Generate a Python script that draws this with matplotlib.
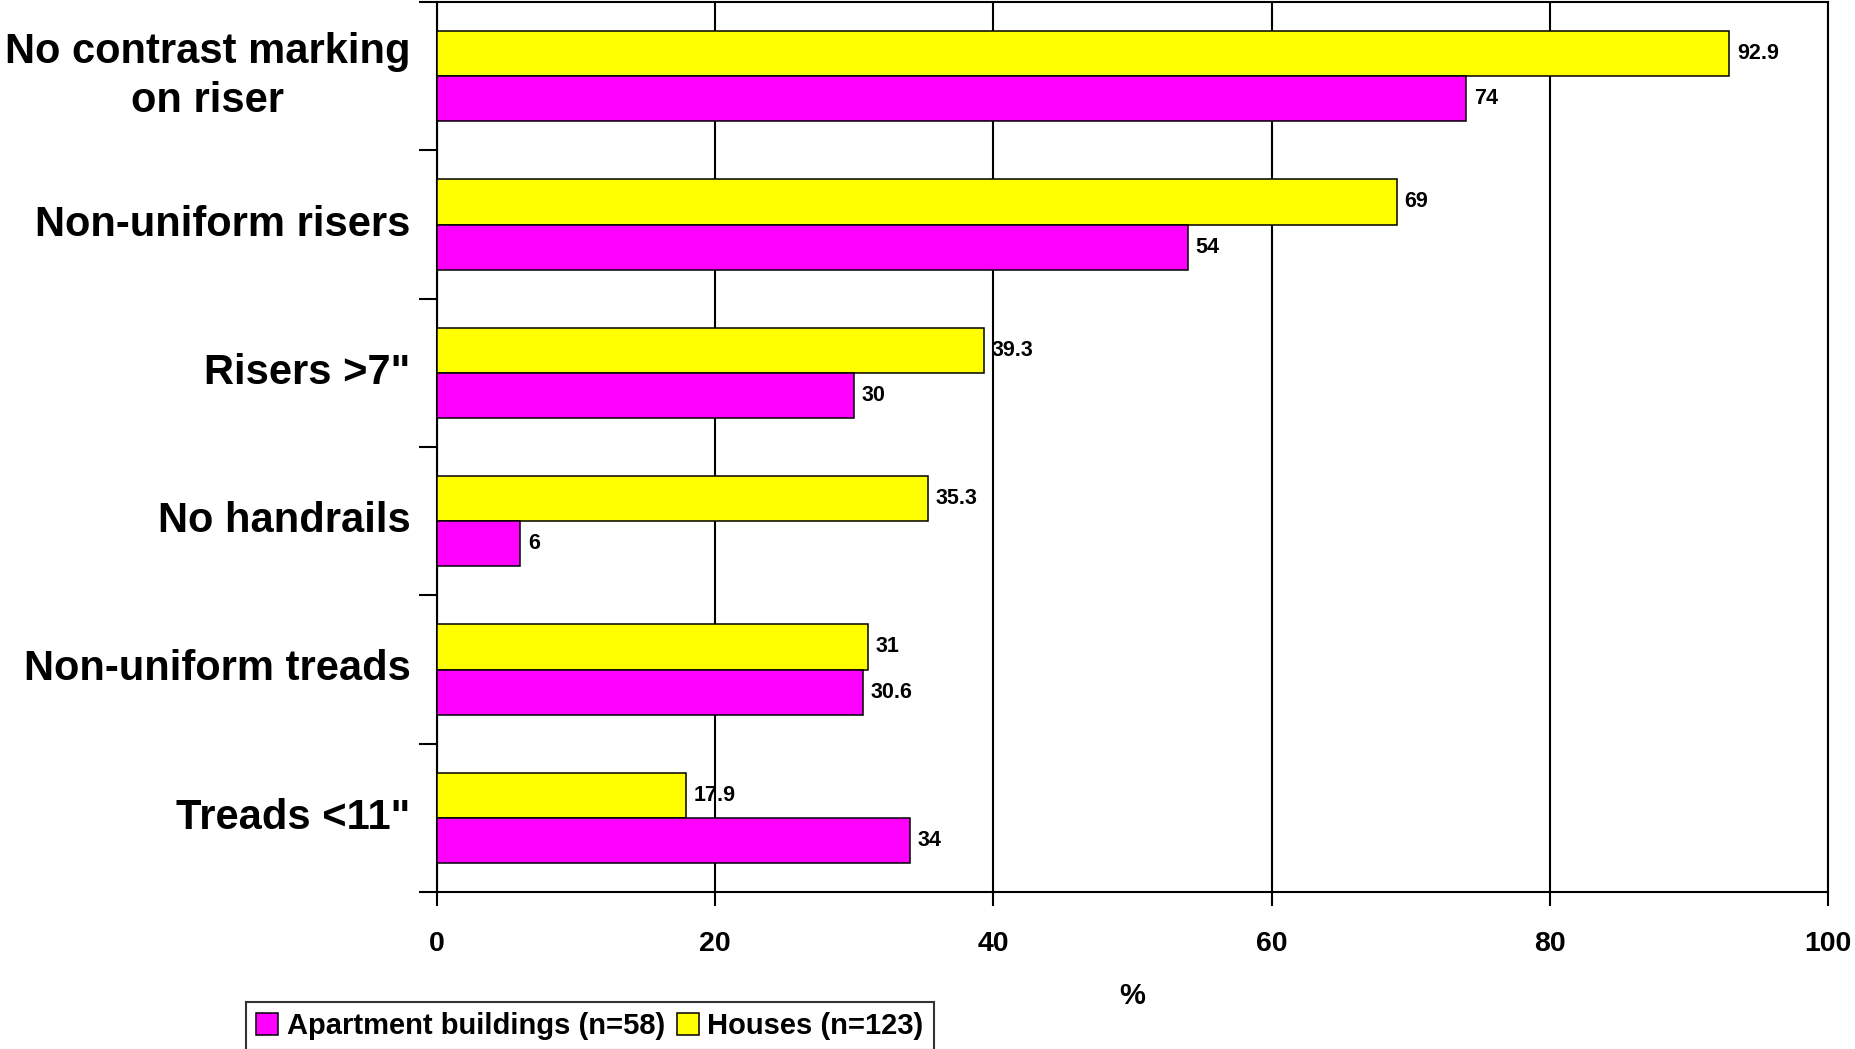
import matplotlib
matplotlib.use("Agg")
import matplotlib.pyplot as plt
from matplotlib.patches import Patch
import numpy as np

# survey results, top to bottom
categories = ["No contrast marking\non riser", "Non-uniform risers", 'Risers >7"',
              "No handrails", "Non-uniform treads", 'Treads <11"']
houses = [92.9, 69, 39.3, 35.3, 31, 17.9]
apartments = [74, 54, 30, 6, 30.6, 34]
x_ticks = [0, 20, 40, 60, 80, 100]

houses_label = "Houses (n=123)"
apartments_label = "Apartment buildings (n=58)"
yellow = "#ffff00"
magenta = "#ff00ff"

plt.rcParams['font.family'] = ['Liberation Sans', 'DejaVu Sans']
plt.rcParams['font.weight'] = 'bold'

fig = plt.figure(figsize=(18.56, 10.49), dpi=100)
ax = fig.add_axes([437/1856, 1-892/1049, (1828-437)/1856, (892-2)/1049])

pos = np.arange(len(categories))
h = 0.305
ax.barh(pos - h/2, houses, height=h, color=yellow, edgecolor='black', linewidth=1.1, zorder=3)
ax.barh(pos + h/2, apartments, height=h, color=magenta, edgecolor='black', linewidth=1.1, zorder=3)

# value labels just past the bar ends
for i in range(len(categories)):
    ax.text(houses[i] + 0.55, pos[i] - h/2, f"{houses[i]:g}", va='center', ha='left',
            fontsize=15.5, fontweight='bold', zorder=2)
    ax.text(apartments[i] + 0.55, pos[i] + h/2, f"{apartments[i]:g}", va='center', ha='left',
            fontsize=15.5, fontweight='bold', zorder=2)

ax.set_xlim(0, 100)
ax.set_ylim(len(categories) - 0.5, -0.5)
ax.set_xticks(x_ticks)
ax.set_xticklabels([str(t) for t in x_ticks], fontsize=20.5, fontweight='bold')
ax.tick_params(axis='x', length=10, width=1.5, pad=18, direction='out')
ax.xaxis.grid(True, color='black', linewidth=1.5, zorder=0)
ax.set_axisbelow(True)

# tick marks on the category boundaries, names at the centres
ax.set_yticks(np.arange(len(categories) + 1) - 0.5)
ax.set_yticklabels([])
ax.tick_params(axis='y', which='major', length=13, width=1.5, direction='out')
ax.set_yticks(pos, minor=True)
ax.set_yticklabels(categories, minor=True, fontsize=30, fontweight='bold',
                   multialignment='center', linespacing=1.3, va='center')
ax.tick_params(axis='y', which='minor', length=0, pad=19)

for s in ax.spines.values():
    s.set_linewidth(1.5)
    s.set_color('black')

ax.set_xlabel("%", fontsize=21, fontweight='bold', labelpad=18)

handles = [Patch(facecolor=magenta, edgecolor='black', linewidth=1.1, label=apartments_label),
           Patch(facecolor=yellow, edgecolor='black', linewidth=1.1, label=houses_label)]
leg = fig.legend(handles=handles, loc='upper left', bbox_to_anchor=(246/1856, 1-1002/1049),
                 ncol=2, fontsize=21, frameon=True, fancybox=False, borderaxespad=0,
                 handlelength=0.75, handleheight=0.75, handletextpad=0.3, columnspacing=0.4,
                 borderpad=0.35)
leg.get_frame().set_edgecolor('black')
leg.get_frame().set_linewidth(1.5)
for t in leg.get_texts():
    t.set_fontweight('bold')

fig.savefig("out.png", dpi=100)
